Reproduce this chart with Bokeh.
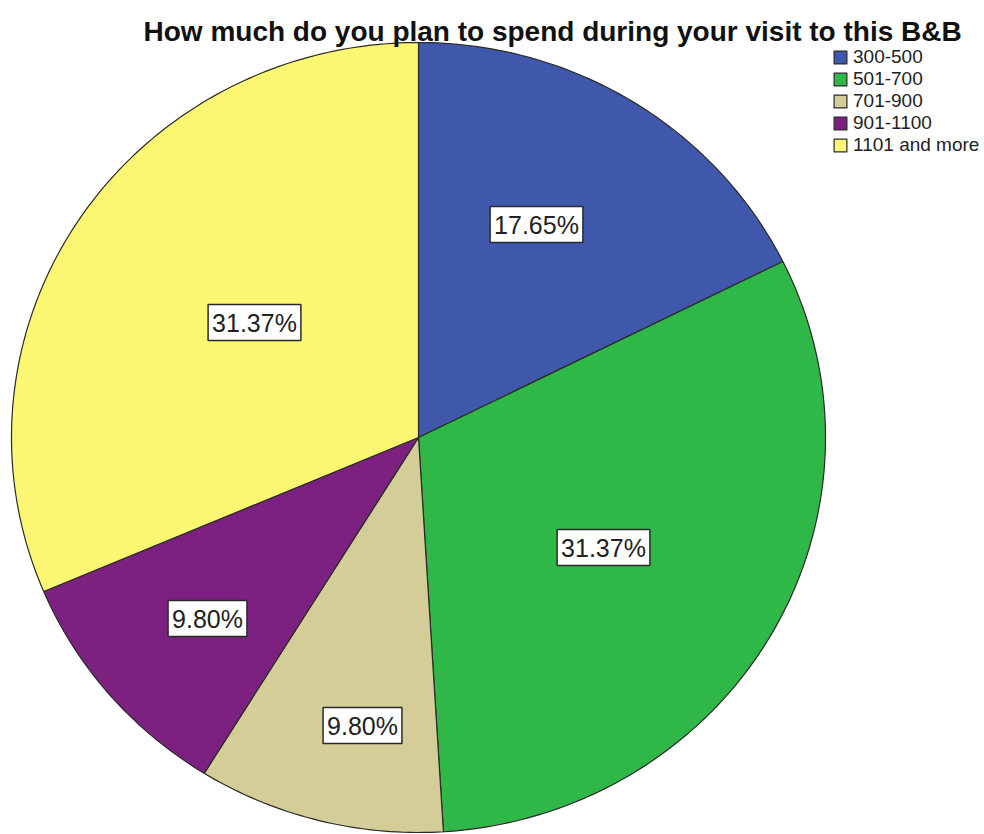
import numpy as np
from bokeh.plotting import figure
from bokeh.models import Range1d, Label, Legend, LegendItem, ColumnDataSource
from bokeh.core.properties import value
from bokeh.embed import file_html
from bokeh.resources import INLINE

# ---- data ----
categories = ["300-500", "501-700", "701-900", "901-1100", "1101 and more"]
percents = [17.65, 31.37, 9.80, 9.80, 31.37]
colors = ["#3f58ab", "#2fb847", "#d4cd98", "#7d2180", "#fbf772"]
title_text = "How much do you plan to spend during your visit to this B&B"

W, H = 984, 834
CX, CY = 418, H - 437
RX, RY = 407, 395

frac = np.array(percents) / np.sum(percents)
cum_end = np.cumsum(frac)
cum_start = cum_end - frac

# build slices (clockwise from 12 o'clock) as polygons so the pie can be slightly elliptical
xs, ys = [], []
for a, b in zip(cum_start, cum_end):
    n = max(int((b - a) * 400), 8)
    th = np.pi / 2 - 2 * np.pi * np.linspace(a, b, n)
    xs.append(np.concatenate([[CX], CX + RX * np.cos(th)]).tolist())
    ys.append(np.concatenate([[CY], CY + RY * np.sin(th)]).tolist())

# label positions (pixel layout, top-left origin)
label_px = [(536, 224), (603, 547), (362, 725), (207, 618), (254, 322)]

p = figure(width=W, height=H, output_backend="svg", toolbar_location=None,
           x_range=Range1d(0, W), y_range=Range1d(0, H), min_border=0,
           outline_line_color=None, background_fill_color="white",
           border_fill_color="white")
p.axis.visible = False
p.xgrid.visible = False
p.ygrid.visible = False

renderers = []
for i, cat in enumerate(categories):
    r = p.patch(x=xs[i], y=ys[i], fill_color=colors[i], line_color="#2a2a2a",
                line_width=1.2, line_join="round")
    renderers.append(r)

src = ColumnDataSource(dict(
    x=[lp[0] for lp in label_px],
    y=[H - lp[1] for lp in label_px],
    t=["%.2f%%" % v for v in percents],
))
p.text(x="x", y="y", text="t", source=src, text_align="center", text_baseline="middle",
       text_font=value("Liberation Sans"), text_font_size="25px", text_color="#222222",
       background_fill_color="white", border_line_color="#2a2a2a", border_line_width=1.5,
       padding=4)

p.add_layout(Label(x=143, y=H - 31, text=title_text, text_font="Liberation Sans",
                   text_font_size="28px", text_font_style="bold", text_color="#111111",
                   text_baseline="alphabetic"))

legend = Legend(items=[LegendItem(label=c, renderers=[r]) for c, r in zip(categories, renderers)],
                location=(832, 678), padding=0, margin=0, spacing=0,
                glyph_width=16, glyph_height=16, label_height=16, label_standoff=5,
                label_text_font="Liberation Sans", label_text_font_size="19px",
                label_text_color="#222222", label_text_baseline="middle",
                background_fill_alpha=0, border_line_color=None)
p.add_layout(legend, "center")

open("out.html", "w").write(file_html(p, INLINE))
